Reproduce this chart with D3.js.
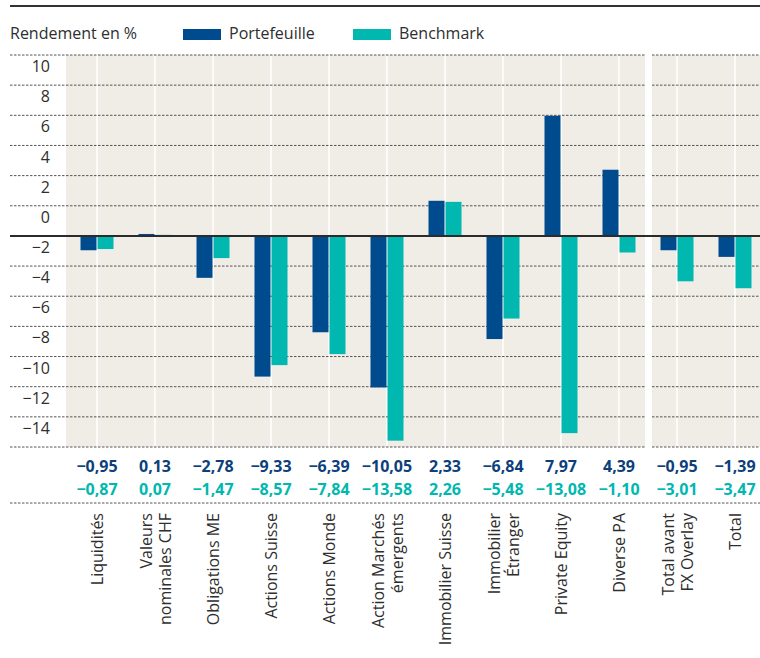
<!DOCTYPE html>
<html>
<head>
<meta charset="utf-8">
<script src="https://cdn.jsdelivr.net/npm/d3@7"></script>
<style>
  body { margin: 0; background: #fff; }
  svg { display: block; font-family: "Open Sans", sans-serif; }
</style>
</head>
<body>
<script>
// categories (multi-line labels split on |)
var categories = ['Liquidités', 'Valeurs|nominales CHF', 'Obligations ME', 'Actions Suisse',
  'Actions Monde', 'Action Marchés|émergents', 'Immobilier Suisse', 'Immobilier|Étranger',
  'Private Equity', 'Diverse PA', 'Total avant|FX Overlay', 'Total'];
var portefeuille = [-0.95, 0.13, -2.78, -9.33, -6.39, -10.05, 2.33, -6.84, 7.97, 4.39, -0.95, -1.39];
var benchmark = [-0.87, 0.07, -1.47, -8.57, -7.84, -13.58, 2.26, -5.48, -13.08, -1.10, -3.01, -3.47];
var yTicks = [10, 8, 6, 4, 2, 0, -2, -4, -6, -8, -10, -12, -14];
var seriesNames = ['Portefeuille', 'Benchmark'];

var w = 760, h = 658;
var cBlue = '#004b8d', cTeal = '#00b8b0', cBg = '#f0ede6', cText = '#2e2e2e';

var svg = d3.select('body').append('svg').attr('width', w).attr('height', h);

var x = d3.scaleBand().domain(categories).range([68, 764]);
var y = d3.scaleLinear().domain([-14, 12]).range([447, 55]);
var fmt = function(v){ return d3.format('.2f')(v).replace('.', ',').replace('-', '\u2212'); };

// top rule
svg.append('line').attr('x1', 10).attr('x2', w).attr('y1', 6).attr('y2', 6)
  .attr('stroke', '#333').attr('stroke-width', 2);

// legend
svg.append('text').attr('x', 10).attr('y', 39).attr('font-size', 16).attr('fill', cText)
  .text('Rendement en %');
var leg = svg.selectAll('g.leg').data(seriesNames).enter().append('g')
  .attr('transform', function(d, i){ return 'translate(' + (183 + i * 170) + ',0)'; });
leg.append('rect').attr('x', 0).attr('y', 29).attr('width', 38).attr('height', 11)
  .attr('fill', function(d, i){ return i ? cTeal : cBlue; });
leg.append('text').attr('x', 46).attr('y', 39).attr('font-size', 16).attr('fill', cText)
  .text(function(d){ return d; });

// background panels
var splitX = x(categories[10]);
svg.append('rect').attr('x', 66).attr('y', y(12)).attr('width', splitX - 3 - 66)
  .attr('height', y(-14) - y(12)).attr('fill', cBg);
svg.append('rect').attr('x', splitX + 4).attr('y', y(12)).attr('width', w - splitX - 4)
  .attr('height', y(-14) - y(12)).attr('fill', cBg);

// white centre lines
svg.selectAll('line.sep').data(categories).enter().append('line')
  .attr('x1', function(d){ return x(d) + x.bandwidth() / 2; })
  .attr('x2', function(d){ return x(d) + x.bandwidth() / 2; })
  .attr('y1', y(12)).attr('y2', y(-14))
  .attr('stroke', '#fff').attr('stroke-width', 1.5);

// dashed gridlines (gap between the two panels)
var grid = d3.range(-14, 13, 2).filter(function(v){ return v !== 0; });
[[10, splitX - 3], [splitX + 4, w]].forEach(function(seg){
  svg.selectAll(null).data(grid).enter().append('line')
    .attr('x1', seg[0]).attr('x2', seg[1])
    .attr('y1', function(d){ return y(d); }).attr('y2', function(d){ return y(d); })
    .attr('stroke', '#555').attr('stroke-width', 1).attr('stroke-dasharray', '2.5,1.5');
});
svg.append('line').attr('x1', 10).attr('x2', w).attr('y1', 503).attr('y2', 503)
  .attr('stroke', '#555').attr('stroke-width', 1).attr('stroke-dasharray', '2.5,1.5');

// y labels (sit above their gridline)
svg.selectAll('text.yt').data(yTicks).enter().append('text')
  .attr('x', 50).attr('y', function(d){ return y(d + 1) + 2; })
  .attr('text-anchor', 'end').attr('font-size', 16).attr('fill', cText)
  .text(function(d){ return String(d).replace('-', '\u2212'); });

// bars
var bw = 16;
svg.selectAll('rect.p').data(portefeuille).enter().append('rect')
  .attr('x', function(d, i){ return x(categories[i]) + x.bandwidth() / 2 - 0.5 - bw; })
  .attr('y', function(d){ return y(Math.max(0, d)); })
  .attr('width', bw)
  .attr('height', function(d){ return Math.abs(y(d) - y(0)); })
  .attr('fill', cBlue);
svg.selectAll('rect.b').data(benchmark).enter().append('rect')
  .attr('x', function(d, i){ return x(categories[i]) + x.bandwidth() / 2 + 0.5; })
  .attr('y', function(d){ return y(Math.max(0, d)); })
  .attr('width', bw)
  .attr('height', function(d){ return Math.abs(y(d) - y(0)); })
  .attr('fill', cTeal);

// zero line
svg.append('line').attr('x1', 10).attr('x2', w).attr('y1', y(0)).attr('y2', y(0))
  .attr('stroke', '#2b2b2b').attr('stroke-width', 2);

// value rows
svg.selectAll('text.vp').data(portefeuille).enter().append('text')
  .attr('x', function(d, i){ return x(categories[i]) + x.bandwidth() / 2; })
  .attr('y', 472).attr('text-anchor', 'middle').attr('font-size', 16)
  .attr('font-weight', 'bold').attr('fill', '#0d3f7a')
  .text(fmt);
svg.selectAll('text.vb').data(benchmark).enter().append('text')
  .attr('x', function(d, i){ return x(categories[i]) + x.bandwidth() / 2; })
  .attr('y', 495).attr('text-anchor', 'middle').attr('font-size', 16)
  .attr('font-weight', 'bold').attr('fill', cTeal)
  .text(fmt);

// category labels, rotated
var cl = svg.selectAll('g.cat').data(categories).enter().append('g')
  .attr('transform', function(d){ return 'translate(' + (x(d) + x.bandwidth() / 2) + ',513) rotate(-90)'; });
cl.each(function(d){
  var lines = d.split('|');
  var g = d3.select(this);
  lines.forEach(function(t, j){
    g.append('text').attr('x', 0)
      .attr('y', 6 + (j - (lines.length - 1) / 2) * 19)
      .attr('text-anchor', 'end').attr('font-size', 16).attr('fill', cText)
      .text(t);
  });
});
</script>
</body>
</html>
